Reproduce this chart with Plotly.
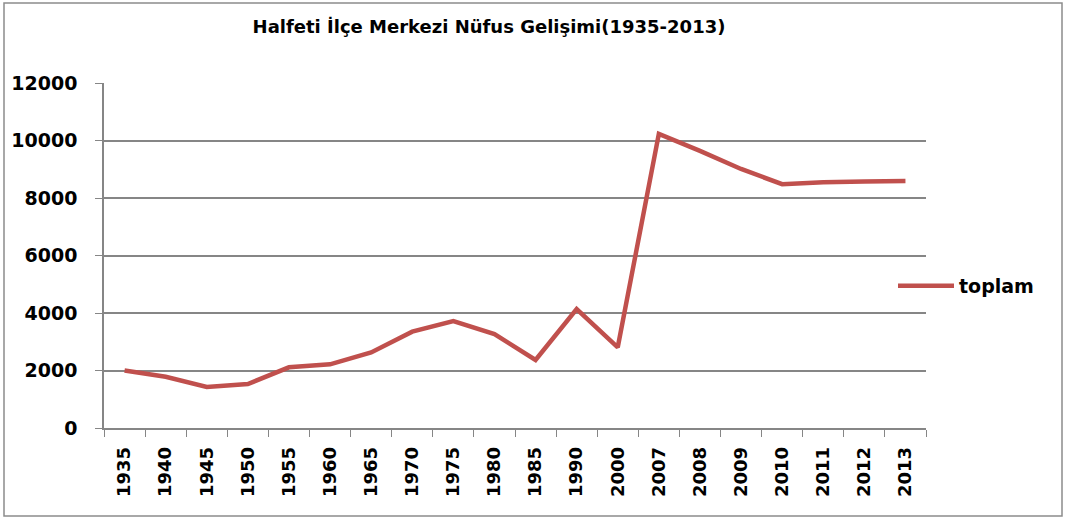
import plotly.graph_objects as go

years = ["1935", "1940", "1945", "1950", "1955", "1960", "1965", "1970", "1975",
         "1980", "1985", "1990", "2000", "2007", "2008", "2009", "2010", "2011",
         "2012", "2013"]
toplam = [2000, 1780, 1430, 1530, 2110, 2215, 2630, 3350, 3720,
          3270, 2365, 4140, 2807, 10230, 9640, 9010, 8480, 8550,
          8570, 8590]
series_name = "toplam"
title_text = "Halfeti İlçe Merkezi Nüfus Gelişimi(1935-2013)"
ytick_vals = [0, 2000, 4000, 6000, 8000, 10000, 12000]
ytick_text = ["0", "2000", "4000", "6000", "8000", "10000", "12000"]

W, H = 1066, 519
L, R, T, B = 104, 926, 83, 428

fig = go.Figure()
fig.add_trace(go.Scatter(
    x=years, y=toplam, mode="lines", name=series_name,
    line=dict(color="#C0504D", width=4.5),
))

grid = "#868686"
fig.update_layout(
    width=W, height=H,
    margin=dict(l=L, r=W - R, t=T, b=H - B, pad=0),
    paper_bgcolor="white", plot_bgcolor="white",
    title=dict(text=title_text, x=489 / W, xref="container", xanchor="center",
               y=1 - 27 / H, yref="container", yanchor="middle",
               font=dict(family="DejaVu Sans", size=18, color="black", weight="bold")),
    showlegend=True,
    legend=dict(x=(893 - L) / (R - L), xanchor="left", y=(B - 286) / (B - T), yanchor="middle",
                font=dict(family="DejaVu Sans", size=19, color="black", weight="bold"),
                bgcolor="rgba(0,0,0,0)", itemwidth=56),
    xaxis=dict(type="category", range=[-0.5, len(years) - 0.5],
               showline=True, linecolor=grid, linewidth=1.5,
               ticks="outside", tickson="boundaries", ticklen=7, tickcolor=grid, tickwidth=1.3,
               showgrid=False, tickangle=-90, ticklabelstandoff=10,
               tickfont=dict(family="DejaVu Sans", size=18, color="black", weight="bold"),
               fixedrange=True),
    yaxis=dict(range=[0, 12000], tickvals=ytick_vals, ticktext=ytick_text,
               showline=True, linecolor=grid, linewidth=1.5,
               ticks="outside", ticklen=7, tickcolor=grid, tickwidth=1.3,
               showgrid=True, gridcolor=grid, gridwidth=1.5, zeroline=False,
               ticklabelstandoff=14,
               tickfont=dict(family="DejaVu Sans", size=19, color="black", weight="bold"),
               fixedrange=True),
    shapes=[dict(type="rect", xref="paper", yref="paper",
                 x0=(4 - L) / (R - L), x1=(1062 - L) / (R - L),
                 y0=(B - 516) / (B - T), y1=(B - 3) / (B - T),
                 line=dict(color="#8c8c8c", width=1.5), fillcolor="rgba(0,0,0,0)")],
)

fig.write_html("out.html", config={"displayModeBar": False},
               post_script="document.body.style.margin='0';document.body.style.overflow='hidden';")
